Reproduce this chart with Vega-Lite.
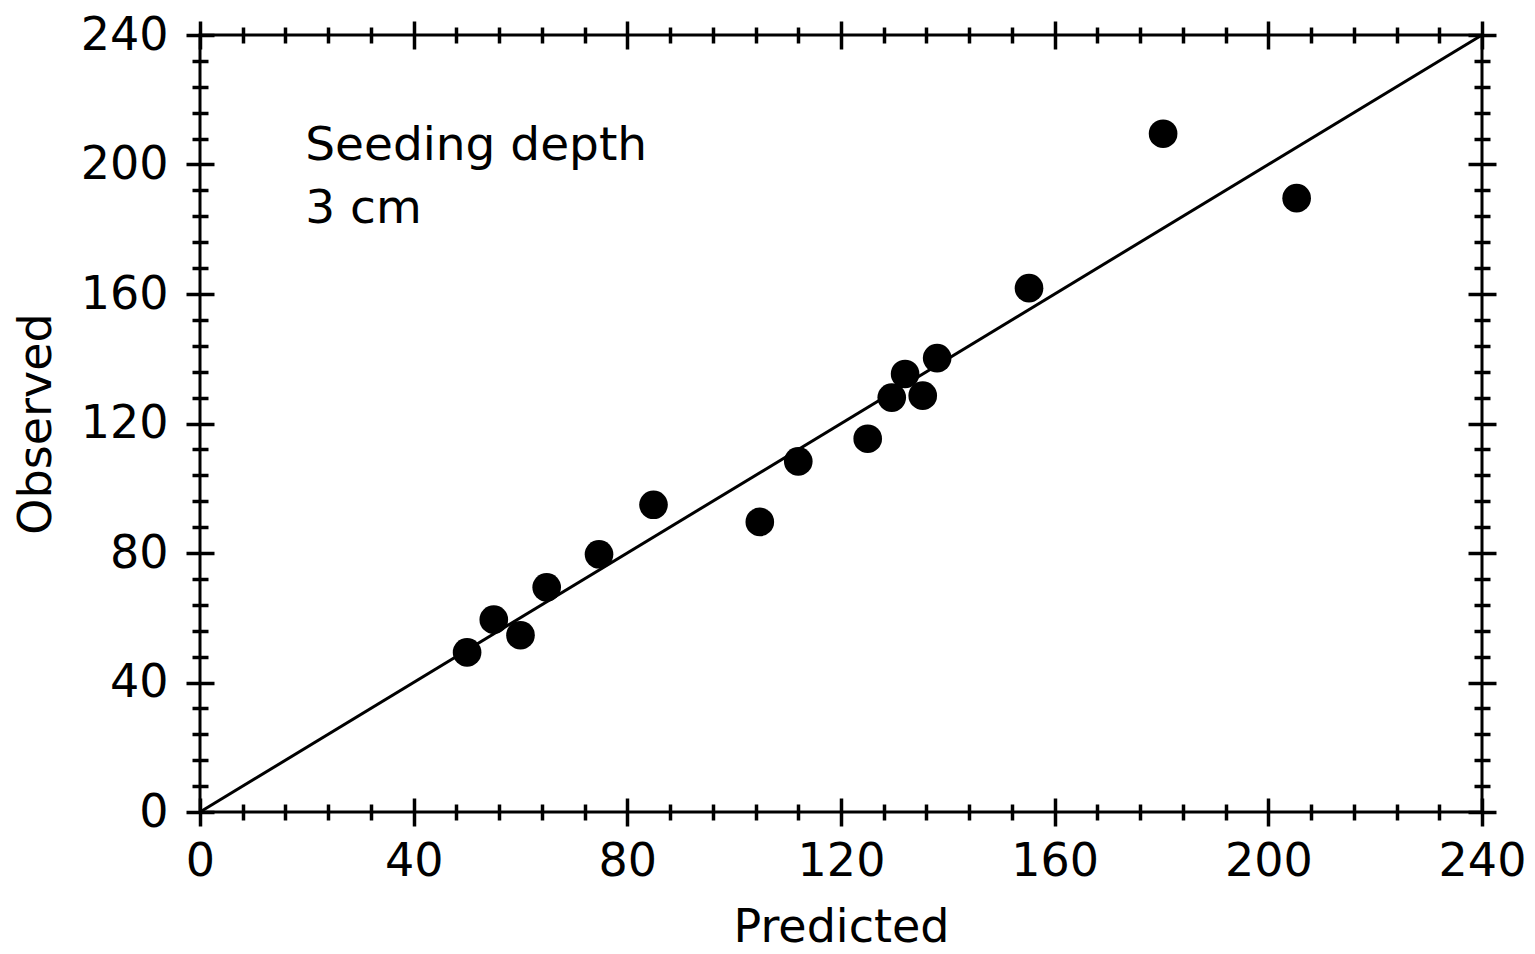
{
  "$schema": "https://vega.github.io/schema/vega-lite/v6.json",
  "width": 1282,
  "height": 777,
  "autosize": "none",
  "padding": {"left": 200, "top": 35, "right": 53, "bottom": 142},
  "background": "#ffffff",
  "config": {
    "view": {"stroke": "#000000", "strokeWidth": 3},
    "font": "DejaVu Sans",
    "axis": {
      "domain": false,
      "grid": false,
      "tickColor": "#000000",
      "tickWidth": 3.5,
      "labelFont": "DejaVu Sans",
      "labelFontSize": 46,
      "labelColor": "#000000",
      "labelFlush": false,
      "labelOverlap": false,
      "titleFont": "DejaVu Sans",
      "titleFontSize": 46,
      "titleFontWeight": "normal",
      "titleColor": "#000000"
    }
  },
  "datasets": {
    "obs": [
      {"predicted": 50.0, "observed": 49.3},
      {"predicted": 55.0, "observed": 59.4},
      {"predicted": 60.0, "observed": 54.6},
      {"predicted": 64.9, "observed": 69.4},
      {"predicted": 74.7, "observed": 79.6},
      {"predicted": 84.9, "observed": 94.9},
      {"predicted": 104.8, "observed": 89.6},
      {"predicted": 112.0, "observed": 108.3},
      {"predicted": 125.0, "observed": 115.3},
      {"predicted": 129.5, "observed": 128.0},
      {"predicted": 132.0, "observed": 135.3},
      {"predicted": 135.3, "observed": 128.6},
      {"predicted": 138.0, "observed": 140.2},
      {"predicted": 155.2, "observed": 161.8},
      {"predicted": 180.3, "observed": 209.5},
      {"predicted": 205.3, "observed": 189.6}
    ],
    "ref": [
      {"predicted": 0, "observed": 0},
      {"predicted": 240, "observed": 240}
    ]
  },
  "layer": [
    {
      "data": {"name": "ref"},
      "mark": {"type": "line", "color": "#000000", "strokeWidth": 3},
      "encoding": {
        "x": {
          "field": "predicted", "type": "quantitative",
          "scale": {"domain": [0, 240], "nice": false, "zero": false},
          "axis": {"orient": "bottom", "values": [0, 40, 80, 120, 160, 200, 240], "tickSize": 28, "offset": -14, "labelPadding": 13, "title": "Predicted", "titlePadding": 21}
        },
        "y": {
          "field": "observed", "type": "quantitative",
          "scale": {"domain": [0, 240], "nice": false, "zero": false},
          "axis": {"orient": "left", "values": [0, 40, 80, 120, 160, 200, 240], "tickSize": 28, "offset": -14, "labelPadding": 18, "title": "Observed", "titlePadding": 20}
        }
      }
    },
    {
      "data": {"name": "obs"},
      "mark": {"type": "circle", "size": 820, "color": "#000000", "opacity": 1},
      "encoding": {
        "x": {
          "field": "predicted", "type": "quantitative",
          "axis": {"orient": "bottom", "values": [8, 16, 24, 32, 48, 56, 64, 72, 88, 96, 104, 112, 128, 136, 144, 152, 168, 176, 184, 192, 208, 216, 224, 232], "tickSize": 16, "offset": -8, "labels": false, "title": null}
        },
        "y": {
          "field": "observed", "type": "quantitative",
          "axis": {"orient": "left", "values": [8, 16, 24, 32, 48, 56, 64, 72, 88, 96, 104, 112, 128, 136, 144, 152, 168, 176, 184, 192, 208, 216, 224, 232], "tickSize": 16, "offset": -8, "labels": false, "title": null}
        }
      }
    },
    {
      "data": {"values": [{}]},
      "mark": {"type": "text", "align": "left", "baseline": "alphabetic", "fontSize": 47, "font": "DejaVu Sans", "color": "#000000"},
      "encoding": {
        "x": {
          "datum": 19.7, "type": "quantitative",
          "axis": {"orient": "top", "values": [0, 40, 80, 120, 160, 200, 240], "tickSize": 28, "offset": -14, "labels": false, "title": null}
        },
        "y": {
          "datum": 201.5, "type": "quantitative",
          "axis": {"orient": "right", "values": [0, 40, 80, 120, 160, 200, 240], "tickSize": 28, "offset": -14, "labels": false, "title": null}
        },
        "text": {"value": "Seeding depth"}
      }
    },
    {
      "data": {"values": [{}]},
      "mark": {"type": "text", "align": "left", "baseline": "alphabetic", "fontSize": 47, "font": "DejaVu Sans", "color": "#000000"},
      "encoding": {
        "x": {
          "datum": 19.7, "type": "quantitative",
          "axis": {"orient": "top", "values": [8, 16, 24, 32, 48, 56, 64, 72, 88, 96, 104, 112, 128, 136, 144, 152, 168, 176, 184, 192, 208, 216, 224, 232], "tickSize": 16, "offset": -8, "labels": false, "title": null}
        },
        "y": {
          "datum": 182, "type": "quantitative",
          "axis": {"orient": "right", "values": [8, 16, 24, 32, 48, 56, 64, 72, 88, 96, 104, 112, 128, 136, 144, 152, 168, 176, 184, 192, 208, 216, 224, 232], "tickSize": 16, "offset": -8, "labels": false, "title": null}
        },
        "text": {"value": "3 cm"}
      }
    }
  ],
  "resolve": {"axis": {"x": "independent", "y": "independent"}}
}
